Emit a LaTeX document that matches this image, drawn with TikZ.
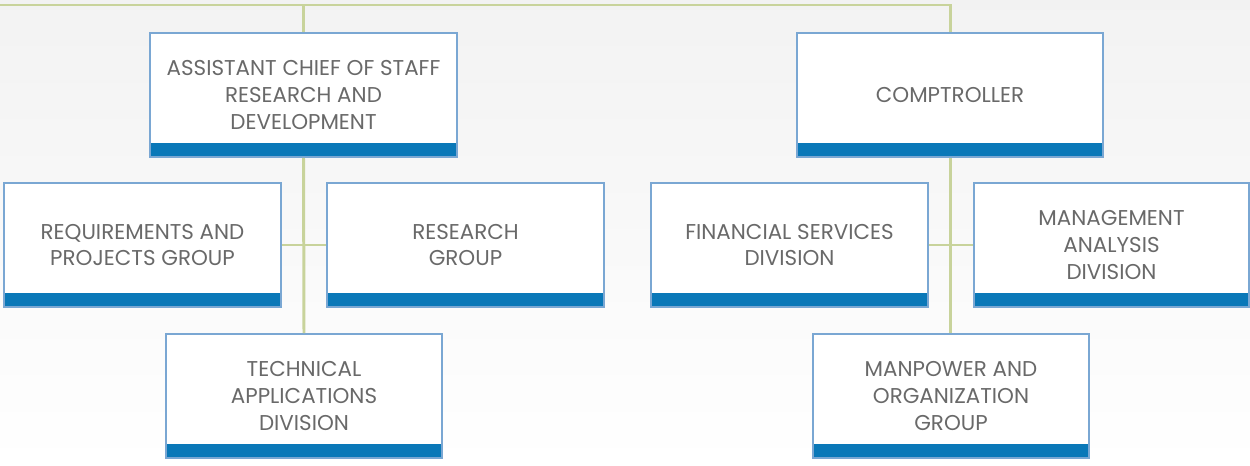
\documentclass[tikz,border=0pt]{standalone}
\usepackage{fontspec}
\setmainfont{Poppins}
\usetikzlibrary{positioning}

\definecolor{linkgreen}{RGB}{200,211,155}
\definecolor{edgeblue}{RGB}{122,167,211}
\definecolor{barblue}{RGB}{10,120,184}
\definecolor{labelgray}{RGB}{105,105,105}

\tikzstyle{office} = [draw=edgeblue, line width=1.1pt, fill=white, minimum height=2.48cm,
    align=center, text=labelgray, font=\fontsize{12.2}{15.3}\selectfont,
    path picture={\fill[barblue] (path picture bounding box.south west)
        rectangle ([yshift=0.28cm]path picture bounding box.south east);}]
\tikzstyle{link} = [draw=linkgreen, line width=1.7pt]

\begin{document}
\begin{tikzpicture}[x=0.02cm, y=-0.02cm]
\useasboundingbox (0,0) rectangle (1250,466);
\shade[top color=black!5, bottom color=white] (0,0) rectangle (1250,466);

% top row
\node[office, minimum width=6.14cm] (acs) at (303.5,95) {ASSISTANT CHIEF OF STAFF\\RESEARCH AND\\DEVELOPMENT};
\node[office, minimum width=6.12cm] (comp) at (950,95) {COMPTROLLER};

% research and development side
\node[office, minimum width=5.54cm] (req) at (142.5,245) {REQUIREMENTS AND\\PROJECTS GROUP};
\node[office, minimum width=5.54cm] (res) at (465.5,245) {RESEARCH\\GROUP};
\node[office, minimum width=5.52cm] (tech) at (304,396) {TECHNICAL\\APPLICATIONS\\DIVISION};

% comptroller side
\node[office, minimum width=5.54cm] (fin) at (789.5,245) {FINANCIAL SERVICES\\DIVISION};
\node[office, minimum width=5.5cm] (mgmt) at (1111.5,245) {MANAGEMENT\\ANALYSIS\\DIVISION};
\node[office, minimum width=5.52cm] (man) at (951,396) {MANPOWER AND\\ORGANIZATION\\GROUP};

% connectors
\coordinate (topl) at (0,5);
\draw[link] (topl) -| (comp.north);
\draw[link] (acs.north) -- (acs.north |- topl);
\draw[link] (acs.south) -- (tech.north);
\draw[link] (req.east) -- (res.west);
\draw[link] (comp.south) -- (comp.south |- man.north);
\draw[link] (fin.east) -- (mgmt.west);
\end{tikzpicture}
\end{document}
